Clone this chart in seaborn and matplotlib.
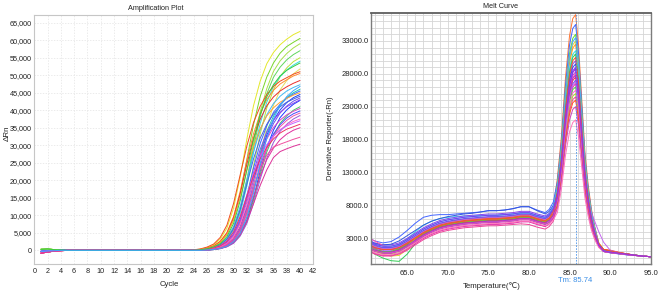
import numpy as np
import pandas as pd
import matplotlib
matplotlib.use("Agg")
import matplotlib.pyplot as plt
import seaborn as sns
from matplotlib.ticker import FuncFormatter, MultipleLocator

# ---------------- Amplification plot data (delta Rn, in thousands) ----------------
amp_cycles = list(range(1, 41))
amp_colors = ["#e4e82c", "#78d62a", "#a6e04a", "#5ed65e", "#bde23a", "#38dede", "#e6dc5a", "#f24b1f",
              "#ff8a33", "#e8302e", "#44b8f2", "#22c8ae", "#3a6cff", "#ffa534", "#2040f0", "#4a62e0",
              "#6a50f0", "#1a3cff", "#8a48ee", "#44c862", "#dd44cc", "#4848ff", "#ee55aa", "#9955dd",
              "#ff66cc", "#c264ff", "#ee3366", "#e0309e", "#f050a0", "#dd3399", "#3ccc3c", "#38a8ff"]
amp_values = [
    [0.3,0.4,0.2,0.1,0,0,0,0,0,0, 0,0,0,0,0,0,0,0,0,0, 0,0,0,0.13,0.32,0.76,1.59,3.2,6.35,12.1, 21.0,31.8,41.3,48.3,53.3,56.5,58.7,60.3,61.6,62.5],
    [0.3,0.4,0.2,0.1,0,0,0,0,0,0, 0,0,0,0,0,0,0,0,0,0, 0,0,0,0.06,0.19,0.5,1.1,2.2,4.5,8.7, 16.1,26.0,35.9,43.9,49.5,53.5,56.3,58.2,59.4,60.5],
    [0.3,0.4,0.2,0.1,0,0,0,0,0,0, 0,0,0,0,0,0,0,0,0,0, 0,0,0,0,0.12,0.3,0.73,1.5,3.0,6.1, 11.6,20.1,30.4,39.5,46.2,51.1,54.1,56.2,57.8,59.0],
    [-0.3,-0.2,-0.1,0,0,0,0,0,0,0, 0,0,0,0,0,0,0,0,0,0, 0,0,0,0,0.12,0.29,0.7,1.5,2.9,5.9, 11.2,19.4,29.4,38.2,44.7,49.4,52.3,54.4,55.9,57.0],
    [0.3,0.4,0.2,0.1,0,0,0,0,0,0, 0,0,0,0,0,0,0,0,0,0, 0,0,0,0,0.06,0.17,0.46,1.0,2.0,4.1, 8.0,14.9,24.1,33.2,40.7,45.8,49.6,52.1,53.9,55.0],
    [-0.3,-0.2,-0.1,0,0,0,0,0,0,0, 0,0,0,0,0,0,0,0,0,0, 0,0,0,0,0.11,0.28,0.67,1.4,2.8,5.6, 10.6,18.4,27.9,36.2,42.3,46.8,49.6,51.5,52.9,54.0],
    [0.3,0.4,0.2,0.1,0,0,0,0,0,0, 0,0,0,0,0,0,0,0,0,0, 0,0,0,0,0,0.11,0.27,0.65,1.4,2.7, 5.5,10.4,18.0,27.3,35.4,41.4,45.8,48.5,50.4,51.8],
    [-0.8,-0.5,-0.2,-0.1,0,0,0,0,0,0, 0,0,0,0,0,0,0,0,0,0, 0,0,0.05,0.15,0.41,0.93,1.8,3.7,7.2,13.4, 21.6,29.8,36.5,41.1,44.5,46.8,48.3,49.3,50.3,51.0],
    [-0.8,-0.5,-0.2,-0.1,0,0,0,0,0,0, 0,0,0,0,0,0,0,0,0,0, 0,0,0,0.1,0.26,0.62,1.3,2.6,5.1,9.7, 16.9,25.7,33.3,39.0,43.1,45.7,47.5,48.7,49.8,50.5],
    [-0.8,-0.5,-0.2,-0.1,0,0,0,0,0,0, 0,0,0,0,0,0,0,0,0,0, 0,0,0,0.1,0.25,0.59,1.2,2.5,4.9,9.3, 16.2,24.6,32.0,37.4,41.3,43.8,45.5,46.7,47.7,48.5],
    [-0.3,-0.2,-0.1,0,0,0,0,0,0,0, 0,0,0,0,0,0,0,0,0,0, 0,0,0,0.05,0.15,0.39,0.87,1.7,3.5,6.8, 12.6,20.3,28.1,34.4,38.7,41.9,44.0,45.5,46.5,47.3],
    [-0.3,-0.2,-0.1,0,0,0,0,0,0,0, 0,0,0,0,0,0,0,0,0,0, 0,0,0,0,0.05,0.14,0.38,0.86,1.7,3.4, 6.7,12.5,20.1,27.8,34.0,38.3,41.4,43.6,45.0,46.0],
    [-0.3,-0.2,-0.1,0,0,0,0,0,0,0, 0,0,0,0,0,0,0,0,0,0, 0,0,0,0,0.09,0.23,0.56,1.2,2.3,4.7, 8.9,15.5,23.5,30.5,35.6,39.4,41.7,43.4,44.6,45.5],
    [-0.8,-0.5,-0.2,-0.1,0,0,0,0,0,0, 0,0,0,0,0,0,0,0,0,0, 0,0,0,0.09,0.23,0.55,1.1,2.3,4.6,8.7, 15.1,22.9,29.7,34.7,38.4,40.7,42.3,43.4,44.3,45.0],
    [-0.3,-0.2,-0.1,0,0,0,0,0,0,0, 0,0,0,0,0,0,0,0,0,0, 0,0,0,0,0.05,0.14,0.37,0.84,1.6,3.3, 6.5,12.1,19.5,26.9,32.9,37.1,40.1,42.2,43.6,44.5],
    [-0.3,-0.2,-0.1,0,0,0,0,0,0,0, 0,0,0,0,0,0,0,0,0,0, 0,0,0,0.05,0.14,0.36,0.81,1.6,3.2,6.3, 11.7,18.9,26.1,32.0,36.0,38.9,41.0,42.3,43.2,44.0],
    [-0.3,-0.2,-0.1,0,0,0,0,0,0,0, 0,0,0,0,0,0,0,0,0,0, 0,0,0,0,0.05,0.14,0.36,0.82,1.6,3.3, 6.3,11.8,19.0,26.3,32.2,36.2,39.2,41.2,42.6,43.5],
    [-0.3,-0.2,-0.1,0,0,0,0,0,0,0, 0,0,0,0,0,0,0,0,0,0, 0,0,0,0,0,0.09,0.23,0.54,1.1,2.3, 4.5,8.6,14.9,22.6,29.3,34.3,37.9,40.1,41.7,42.8],
    [-0.3,-0.2,-0.1,0,0,0,0,0,0,0, 0,0,0,0,0,0,0,0,0,0, 0,0,0,0,0.09,0.22,0.53,1.1,2.2,4.4, 8.4,14.6,22.2,28.8,33.7,37.2,39.4,41.0,42.0,43.0],
    [0.3,0.4,0.2,0.1,0,0,0,0,0,0, 0,0,0,0,0,0,0,0,0,0, 0,0,0,0,0,0.09,0.22,0.52,1.1,2.2, 4.3,8.2,14.3,21.6,28.1,32.8,36.3,38.4,40.0,41.0],
    [-0.8,-0.5,-0.2,-0.1,0,0,0,0,0,0, 0,0,0,0,0,0,0,0,0,0, 0,0,0,0,0.08,0.21,0.5,1.0,2.1,4.2, 7.9,13.8,20.9,27.2,31.8,35.1,37.2,38.7,39.7,40.5],
    [-0.3,-0.2,-0.1,0,0,0,0,0,0,0, 0,0,0,0,0,0,0,0,0,0, 0,0,0,0,0.04,0.12,0.33,0.75,1.5,3.0, 5.8,10.8,17.4,24.1,29.5,33.2,35.9,37.8,39.0,39.8],
    [-0.8,-0.5,-0.2,-0.1,0,0,0,0,0,0, 0,0,0,0,0,0,0,0,0,0, 0,0,0,0,0.04,0.12,0.33,0.73,1.4,2.9, 5.7,10.6,17.1,23.7,29.0,32.6,35.3,37.1,38.4,39.2],
    [-0.3,-0.2,-0.1,0,0,0,0,0,0,0, 0,0,0,0,0,0,0,0,0,0, 0,0,0,0,0,0.08,0.2,0.49,1.0,2.0, 4.1,7.7,13.4,20.3,26.3,30.8,34.0,36.0,37.5,38.5],
    [-0.8,-0.5,-0.2,-0.1,0,0,0,0,0,0, 0,0,0,0,0,0,0,0,0,0, 0,0,0,0,0.08,0.19,0.46,0.97,1.9,3.9, 7.4,12.8,19.4,25.2,29.4,32.5,34.4,35.8,36.8,37.5],
    [-0.3,-0.2,-0.1,0,0,0,0,0,0,0, 0,0,0,0,0,0,0,0,0,0, 0,0,0,0.04,0.11,0.3,0.68,1.3,2.7,5.3, 9.8,15.9,21.9,26.8,30.2,32.7,34.4,35.5,36.3,37.0],
    [-0.8,-0.5,-0.2,-0.1,0,0,0,0,0,0, 0,0,0,0,0,0,0,0,0,0, 0,0,0,0.04,0.11,0.29,0.66,1.3,2.6,5.2, 9.6,15.5,21.3,26.1,29.4,31.8,33.5,34.6,35.3,36.0],
    [-0.8,-0.5,-0.2,-0.1,0,0,0,0,0,0, 0,0,0,0,0,0,0,0,0,0, 0,0,0,0,0.04,0.11,0.29,0.66,1.3,2.6, 5.1,9.5,15.3,21.2,25.9,29.2,31.6,33.2,34.3,35.0],
    [-0.8,-0.5,-0.2,-0.1,0,0,0,0,0,0, 0,0,0,0,0,0,0,0,0,0, 0,0,0,0,0.07,0.17,0.4,0.83,1.7,3.4, 6.5,11.5,17.5,23.0,27.2,29.5,30.3,31.0,31.7,32.3],
    [-0.8,-0.5,-0.2,-0.1,0,0,0,0,0,0, 0,0,0,0,0,0,0,0,0,0, 0,0,0,0,0,0.1,0.25,0.57,1.1,2.3, 4.5,8.3,13.3,18.5,23.0,26.5,28.2,29.0,29.7,30.3],
    [0.3,0.4,0.2,0.1,0,0,0,0,0,0, 0,0,0,0,0,0,0,0,0,0, 0,0,0,0.05,0.16,0.44,0.98,1.9,3.9,7.7, 14.2,23.0,31.7,38.8,43.8,47.3,49.8,51.4,52.5,53.5],
    [-0.3,-0.2,-0.1,0,0,0,0,0,0,0, 0,0,0,0,0,0,0,0,0,0, 0,0,0,0,0,0.1,0.25,0.59,1.2,2.5, 4.9,9.4,16.3,24.7,32.0,37.5,41.4,43.9,45.6,46.8],
]
amp_xticks = list(range(0, 43, 2))
amp_yticks = list(range(0, 65001, 5000))

# ---------------- Melt curve data (derivative reporter, in thousands) ----------------
melt_temps = [60.5, 61, 62, 63, 64, 65, 66, 67, 68, 69, 70, 71, 72, 73, 74, 75, 76, 77, 78, 79, 80, 81, 82,
              82.5, 83, 83.5, 84, 84.5, 85, 85.4, 85.75, 86.1, 86.5, 86.9, 87.3, 87.7, 88.1, 88.6, 89.2,
              90, 91, 92, 93, 94, 95]
melt_colors = ["#ff7733", "#4466ff", "#66dd33", "#e0d830", "#ff9922", "#33dddd", "#33cc55", "#8844ee",
               "#3355dd", "#9933ff", "#cc33cc", "#aa44dd", "#ff55aa", "#ee3344", "#6655ee", "#dd22aa",
               "#55cc44", "#ff66cc", "#a8d838", "#ee4499", "#ff5522", "#cc44bb", "#ff77bb", "#c466f0",
               "#44aaff", "#ee5533", "#7a3df0", "#b030d0"]
melt_values = [
    [2.1,1.8,1.5,1.5,1.8,2.5,3.3,4.1,4.7,5.2,5.5,5.7,5.9,6.0,6.1,6.2,6.2,6.3,6.4,6.6,6.6,6.2,5.9,
     6.4,7.6,12.1,18.5,27.4,33.8,36.4,37.0,32.5,24.2,16.0,11.1,7.4,4.8,2.3,1.2, 1.0,0.8,0.6,0.45,0.3,0.2],
    [2.9,2.6,2.3,2.5,3.2,4.2,5.3,6.2,6.5,6.6,6.6,6.7,6.8,6.9,7.0,7.2,7.2,7.3,7.5,7.8,7.8,7.3,6.9,
     7.4,8.5,11.6,17.7,26.3,32.4,34.9,35.5,31.2,23.3,15.3,10.6,7.1,4.7,2.2,1.1, 0.9,0.75,0.6,0.45,0.3,0.2],
    [1.5,1.2,0.8,0.7,1.1,2.0,3.0,3.9,4.6,5.1,5.4,5.6,5.8,5.9,6.0,6.1,6.1,6.2,6.3,6.5,6.4,6.0,5.7,
     6.2,7.2,11.1,17.0,25.2,31.1,33.4,34.0,29.9,22.3,14.7,10.2,6.8,4.5,2.1,1.1, 0.9,0.7,0.6,0.45,0.3,0.2],
    [1.3,1.0,0.6,0.3,0.4,1.3,2.5,3.5,4.2,4.7,5.0,5.2,5.4,5.5,5.6,5.7,5.7,5.8,5.9,6.0,6.0,5.6,5.3,
     5.8,6.8,10.8,16.5,24.5,30.2,32.4,33.0,29.0,21.6,14.2,9.9,6.6,4.3,2.1,1.1, 0.9,0.75,0.6,0.45,0.3,0.2],
    [2.0,1.7,1.4,1.4,1.7,2.4,3.2,4.0,4.6,5.1,5.4,5.6,5.8,5.9,6.0,6.1,6.1,6.2,6.3,6.5,6.5,6.1,5.8,
     6.2,7.3,10.6,16.3,24.1,29.7,31.9,32.5,28.6,21.3,14.0,9.8,6.5,4.3,2.3,1.3, 1.1,0.85,0.65,0.45,0.3,0.2],
    [2.0,1.7,1.5,1.6,2.0,2.9,4.0,5.0,5.6,6.0,6.2,6.3,6.4,6.4,6.5,6.5,6.5,6.6,6.7,6.8,6.8,6.4,6.1,
     6.5,7.5,10.3,15.7,23.3,28.8,31.0,31.5,27.7,20.6,13.6,9.4,6.3,4.1,2.0,1.1, 0.9,0.7,0.55,0.4,0.3,0.2],
    [1.0,0.6,0.0,-0.4,-0.5,0.6,2.2,3.3,4.0,4.5,4.8,5.0,5.2,5.3,5.4,5.5,5.5,5.6,5.7,5.9,5.9,5.5,5.1,
     5.5,6.5,10.2,15.5,23.0,28.3,30.5,31.0,27.3,20.3,13.4,9.3,6.2,4.1,2.1,1.2, 1.0,0.8,0.6,0.45,0.3,0.2],
    [2.6,2.3,2.0,2.0,2.3,3.0,3.8,4.6,5.2,5.7,6.0,6.2,6.4,6.5,6.6,6.7,6.7,6.8,6.9,7.1,7.1,6.7,6.4,
     6.8,7.7,9.8,15.0,22.2,27.4,29.5,30.0,26.4,19.6,12.9,9.0,6.0,3.9,1.9,1.0, 0.8,0.65,0.5,0.4,0.3,0.2],
    [2.5,2.2,2.0,2.1,2.6,3.4,4.2,5.0,5.6,6.0,6.3,6.5,6.7,6.8,7.0,7.2,7.2,7.3,7.5,7.8,7.8,7.2,6.7,
     7.1,8.0,9.8,14.8,21.9,27.0,29.0,29.5,25.9,19.3,12.7,8.8,5.9,3.9,1.9,1.0, 0.8,0.65,0.5,0.4,0.3,0.2],
    [1.8,1.5,1.2,1.2,1.5,2.2,3.0,3.8,4.4,4.9,5.2,5.4,5.6,5.7,5.8,5.9,5.9,6.0,6.1,6.3,6.3,5.9,5.6,
     6.0,6.9,9.5,14.5,21.5,26.5,28.5,29.0,25.5,19.0,12.5,8.7,5.8,3.8,2.0,1.1, 0.9,0.75,0.6,0.45,0.3,0.2],
    [1.7,1.4,1.0,0.9,1.2,1.9,2.7,3.5,4.2,4.7,5.0,5.2,5.4,5.5,5.6,5.7,5.7,5.8,5.9,6.1,6.1,5.7,5.4,
     5.8,6.7,9.4,14.4,21.3,26.2,28.2,28.7,25.2,18.8,12.4,8.6,5.7,3.8,2.0,1.1, 0.9,0.75,0.6,0.45,0.3,0.2],
    [2.2,1.9,1.5,1.5,1.8,2.5,3.3,4.1,4.7,5.2,5.5,5.7,5.9,6.0,6.1,6.2,6.2,6.3,6.4,6.6,6.6,6.2,5.9,
     6.3,7.2,9.3,14.2,21.0,25.9,27.8,28.3,24.9,18.5,12.2,8.5,5.7,3.7,1.9,1.0, 0.85,0.7,0.55,0.4,0.3,0.2],
    [2.9,2.6,1.9,1.4,1.3,1.7,2.4,3.1,3.7,4.2,4.5,4.7,4.9,5.0,5.1,5.2,5.2,5.3,5.4,5.6,5.6,5.2,4.8,
     5.2,6.1,9.2,14.0,20.8,25.6,27.5,28.0,24.6,18.4,12.1,8.4,5.6,3.7,2.0,1.1, 0.9,0.75,0.6,0.45,0.3,0.2],
    [1.5,1.2,1.0,1.0,1.3,2.0,2.8,3.6,4.2,4.7,5.0,5.2,5.4,5.5,5.6,5.7,5.7,5.8,5.9,6.1,6.1,5.7,5.4,
     5.8,6.6,9.0,13.7,20.4,25.1,27.0,27.5,24.2,18.0,11.9,8.2,5.5,3.6,2.1,1.3, 1.1,0.85,0.65,0.45,0.3,0.2],
    [2.3,2.0,1.6,1.6,1.9,2.6,3.4,4.2,4.8,5.3,5.6,5.8,6.0,6.1,6.2,6.3,6.3,6.4,6.5,6.7,6.7,6.3,6.0,
     6.4,7.2,8.8,13.5,20.0,24.7,26.5,27.0,23.7,17.7,11.6,8.1,5.4,3.5,1.9,1.0, 0.85,0.7,0.55,0.4,0.3,0.2],
    [1.0,0.7,0.4,0.4,0.7,1.4,2.2,3.0,3.6,4.1,4.4,4.6,4.8,4.9,5.0,5.1,5.1,5.2,5.3,5.5,5.5,5.1,4.8,
     5.2,6.0,8.7,13.3,19.7,24.2,26.0,26.5,23.3,17.4,11.4,8.0,5.3,3.5,1.9,1.1, 0.9,0.75,0.6,0.45,0.3,0.2],
    [1.6,1.3,1.0,1.0,1.4,2.1,2.9,3.7,4.3,4.8,5.1,5.3,5.5,5.6,5.7,5.8,5.8,5.9,6.0,6.2,6.2,5.8,5.5,
     5.9,6.7,8.5,13.0,19.3,23.8,25.6,26.0,22.9,17.0,11.2,7.8,5.2,3.4,1.9,1.1, 0.9,0.75,0.6,0.45,0.3,0.2],
    [1.4,1.1,0.8,0.8,1.1,1.8,2.6,3.4,4.0,4.5,4.8,5.0,5.2,5.3,5.4,5.5,5.5,5.6,5.7,5.9,5.9,5.5,5.2,
     5.6,6.3,8.4,12.7,18.9,23.3,25.1,25.5,22.4,16.7,11.0,7.6,5.1,3.3,1.8,1.0, 0.85,0.7,0.55,0.4,0.3,0.2],
    [1.6,1.2,0.8,0.6,0.8,1.8,3.0,3.9,4.5,5.0,5.3,5.5,5.7,5.8,5.9,6.0,6.0,6.1,6.2,6.4,6.4,6.0,5.7,
     6.0,6.8,8.2,12.5,18.5,22.8,24.6,25.0,22.0,16.4,10.8,7.5,5.0,3.3,1.8,1.0, 0.85,0.7,0.55,0.4,0.3,0.2],
    [0.9,0.6,0.3,0.3,0.6,1.2,2.0,2.8,3.4,3.9,4.2,4.4,4.6,4.7,4.8,4.9,4.9,5.0,5.1,5.2,5.1,4.7,4.4,
     4.8,5.6,8.0,12.3,18.2,22.4,24.1,24.5,21.5,16.1,10.6,7.4,4.9,3.2,1.8,1.0, 0.85,0.7,0.55,0.4,0.3,0.2],
    [1.9,1.6,1.3,1.3,1.6,2.2,3.0,3.8,4.4,4.9,5.2,5.4,5.6,5.7,5.8,5.9,5.9,6.0,6.1,6.3,6.3,5.9,5.6,
     6.0,6.8,7.9,12.0,17.8,21.9,23.6,24.0,21.1,15.7,10.4,7.2,4.8,3.2,2.0,1.3, 1.2,0.9,0.65,0.45,0.3,0.2],
    [1.3,1.0,0.7,0.7,1.0,1.7,2.5,3.3,3.9,4.4,4.7,4.9,5.1,5.2,5.3,5.4,5.4,5.5,5.6,5.8,5.8,5.4,5.1,
     5.4,6.1,7.5,11.5,17.0,21.0,22.6,23.0,20.2,15.1,9.9,6.9,4.6,3.0,1.7,1.0, 0.85,0.7,0.55,0.4,0.3,0.2],
    [1.1,0.8,0.5,0.5,0.8,1.5,2.3,3.1,3.7,4.2,4.5,4.7,4.9,5.0,5.1,5.2,5.2,5.3,5.4,5.6,5.6,5.2,4.9,
     5.2,5.8,6.9,10.5,15.6,19.2,20.6,21.0,18.5,13.8,9.1,6.3,4.2,2.8,1.6,1.0, 0.85,0.7,0.55,0.4,0.3,0.2],
    [2.0,1.7,1.4,1.4,1.7,2.4,3.2,4.0,4.6,5.1,5.4,5.6,5.8,5.9,6.0,6.1,6.1,6.2,6.3,6.5,6.5,6.1,5.8,
     6.2,7.0,8.8,13.4,19.9,24.5,26.3,26.8,23.6,17.6,11.8,8.6,6.9,5.6,4.0,2.4, 1.2,0.85,0.6,0.45,0.3,0.2],
    [2.4,2.1,1.8,1.8,2.1,2.8,3.6,4.4,5.0,5.5,5.8,6.0,6.2,6.3,6.4,6.5,6.5,6.6,6.7,6.9,6.9,6.5,6.2,
     6.7,7.7,11.0,16.7,24.8,30.6,32.9,33.5,29.5,21.9,14.4,10.0,6.7,4.4,2.1,1.1, 0.9,0.75,0.6,0.45,0.3,0.2],
    [1.9,1.6,1.3,1.3,1.6,2.3,3.1,3.9,4.5,5.0,5.3,5.5,5.7,5.8,5.9,6.0,6.0,6.1,6.2,6.4,6.4,6.0,5.7,
     6.1,7.1,10.0,15.3,22.6,27.9,30.0,30.5,26.8,20.0,13.2,9.2,6.1,4.0,2.2,1.3, 1.1,0.85,0.65,0.45,0.3,0.2],
    [2.4,2.1,1.8,1.8,2.1,2.8,3.6,4.4,5.0,5.5,5.8,6.0,6.2,6.3,6.4,6.5,6.5,6.6,6.7,6.9,6.9,6.5,6.2,
     6.6,7.5,9.4,14.4,21.3,26.3,28.3,28.8,25.3,18.9,12.4,8.6,5.8,3.8,2.0,1.1, 0.9,0.75,0.6,0.45,0.3,0.2],
    [1.5,1.2,0.9,0.9,1.2,1.9,2.7,3.5,4.1,4.6,4.9,5.1,5.3,5.4,5.5,5.6,5.6,5.7,5.8,6.0,6.0,5.6,5.3,
     5.7,6.5,9.1,13.9,20.6,25.4,27.3,27.8,24.5,18.2,12.0,8.3,5.6,3.6,1.9,1.0, 0.85,0.7,0.55,0.4,0.3,0.2],
]
melt_xticks = [65, 70, 75, 80, 85, 90, 95]
melt_yticks = [3000, 8000, 13000, 18000, 23000, 28000, 33000]
tm_value = 85.74

# ---------------- Build long-form tables ----------------
amp_ids = [f"A{i:02d}" for i in range(len(amp_values))]
amp_df = pd.DataFrame({
    "Cycle": np.tile(amp_cycles, len(amp_values)),
    "dRn": np.concatenate([np.asarray(v, dtype=float) for v in amp_values]) * 1000.0,
    "well": np.repeat(amp_ids, len(amp_cycles)),
})
melt_ids = [f"M{i:02d}" for i in range(len(melt_values))]
melt_df = pd.DataFrame({
    "Temp": np.tile(melt_temps, len(melt_values)),
    "deriv": np.concatenate([np.asarray(v, dtype=float) for v in melt_values]) * 1000.0,
    "well": np.repeat(melt_ids, len(melt_temps)),
})

sns.set_theme(style="white")
plt.rcParams["font.family"] = ["Liberation Sans", "DejaVu Sans", "Noto Sans CJK SC"]

W, H = 659, 292
fig = plt.figure(figsize=(W / 100, H / 100), dpi=100)


def box(l, t, r, b):
    return [l / W, 1 - b / H, (r - l) / W, (b - t) / H]


def fpos(x, y):
    return x / W, 1 - y / H


ax1 = fig.add_axes(box(34.3, 15, 313.3, 264))
ax2 = fig.add_axes(box(370.7, 13.3, 650.7, 264.3))

FS = 5.2

# ---- Amplification plot ----
sns.lineplot(data=amp_df, x="Cycle", y="dRn", hue="well",
             palette=dict(zip(amp_ids, amp_colors)), legend=False,
             estimator=None, linewidth=0.7, ax=ax1)
ax1.set_xlim(0, 42)
ax1.set_ylim(-3900, 67200)
ax1.set_xticks(amp_xticks)
ax1.set_yticks(amp_yticks)
ax1.yaxis.set_major_formatter(FuncFormatter(lambda v, p: f"{int(v):,}"))
ax1.grid(True, color="#e3e3e3", linewidth=0.5, linestyle=(0, (2, 2)))
ax1.set_axisbelow(True)
for s in ax1.spines.values():
    s.set_color("#c6c6c6")
    s.set_linewidth(0.8)
ax1.tick_params(axis="both", length=0, labelsize=FS, colors="#222222")
ax1.tick_params(axis="y", pad=2)
ax1.tick_params(axis="x", pad=3)
ax1.set_xlabel("")
ax1.set_ylabel("")

# ---- Melt curve ----
sns.lineplot(data=melt_df, x="Temp", y="deriv", hue="well",
             palette=dict(zip(melt_ids, melt_colors)), legend=False,
             estimator=None, linewidth=0.7, ax=ax2)
ax2.set_xlim(60.5, 95)
ax2.set_ylim(-950, 37200)
ax2.set_xticks(melt_xticks)
ax2.set_yticks(melt_yticks)
ax2.xaxis.set_minor_locator(MultipleLocator(1))
ax2.yaxis.set_minor_locator(MultipleLocator(1000))
ax2.xaxis.set_major_formatter(FuncFormatter(lambda v, p: f"{v:.1f}"))
ax2.yaxis.set_major_formatter(FuncFormatter(lambda v, p: f"{v:.1f}"))
ax2.grid(True, which="both", color="#d6d6d6", linewidth=0.6, linestyle="-")
ax2.set_axisbelow(True)
for name, s in ax2.spines.items():
    s.set_color("#7c7c7c")
    s.set_linewidth(1.0)
ax2.spines["top"].set_color("#5e5e5e")
ax2.spines["top"].set_linewidth(1.3)
ax2.tick_params(axis="both", which="both", length=0, labelsize=FS + 0.3, colors="#222222")
ax2.tick_params(axis="y", pad=1.5)
ax2.tick_params(axis="x", pad=4)
ax2.set_xlabel("")
ax2.set_ylabel("")

ax2.axvline(tm_value, color="#4d94e8", linewidth=0.6, linestyle=(0, (2, 1.5)), zorder=5)
ax2.annotate(f"Tm: {tm_value:.2f}", xy=(tm_value, 0), xycoords=("data", "axes fraction"),
             xytext=(0, -11.5), textcoords="offset points", ha="center", va="center",
             fontsize=FS + 0.3, color="#3a8ee6")

# ---- Titles and axis labels ----
fig.text(*fpos(155.5, 8), "Amplification Plot", ha="center", va="center", fontsize=FS, color="#222222")
fig.text(*fpos(501, 6.5), "Melt Curve", ha="center", va="center", fontsize=FS, color="#222222")
fig.text(*fpos(169, 284), "Cycle", ha="center", va="center", fontsize=FS + 0.4, color="#222222")
fig.text(*fpos(491.5, 286), "Temperature(\u2103)", ha="center", va="center", fontsize=FS + 0.4, color="#222222")
fig.text(*fpos(7, 133), "\u0394Rn", ha="center", va="center", rotation=90, fontsize=FS + 0.6, color="#222222")
fig.text(*fpos(330.5, 138), "Derivative Reporter(-Rn)", ha="center", va="center", rotation=90,
         fontsize=FS + 0.3, color="#222222")

fig.savefig("out.png", dpi=100)
